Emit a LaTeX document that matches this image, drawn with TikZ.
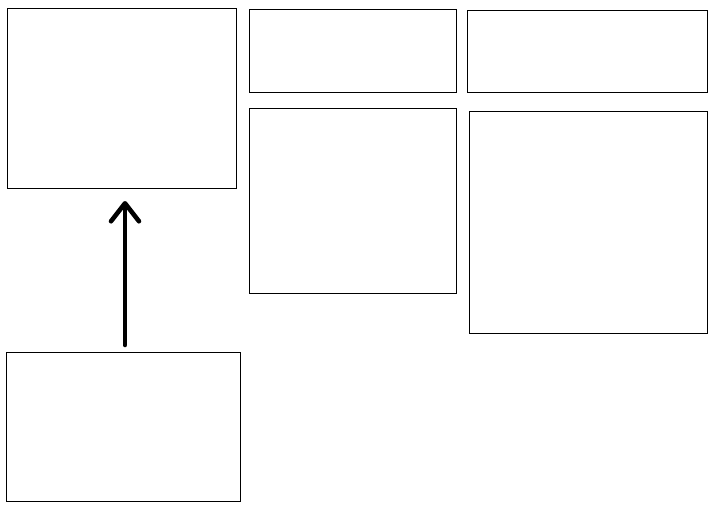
\documentclass[tikz,border=0pt]{standalone}
\usetikzlibrary{arrows.meta}

\begin{document}
\begin{tikzpicture}[
    x=0.02cm, y=-0.02cm,
    panel/.style={draw, line width=0.45pt, anchor=north west, inner sep=0pt, outer sep=0pt},
    arrow/.style={-{Straight Barb[length=3.6mm, width=5.6mm, round]}, line width=2.6pt, line cap=round},
]
    \useasboundingbox (0,0) rectangle (721,525);

    \node[panel, minimum width=4.58cm, minimum height=3.6cm] (upper) at (7,8) {};
    \node[panel, minimum width=4.14cm, minimum height=1.66cm] (midtop) at (249,9) {};
    \node[panel, minimum width=4.8cm, minimum height=1.64cm] (righttop) at (467,10) {};
    \node[panel, minimum width=4.14cm, minimum height=3.7cm] (midlow) at (249,108) {};
    \node[panel, minimum width=4.76cm, minimum height=4.44cm] (rightlow) at (469,111) {};
    \node[panel, minimum width=4.68cm, minimum height=2.98cm] (lower) at (6,352) {};

    \coordinate (tail) at (125,345);
    \coordinate (head) at (125,201);
    \draw[arrow] (tail) -- (head);

\end{tikzpicture}
\end{document}
